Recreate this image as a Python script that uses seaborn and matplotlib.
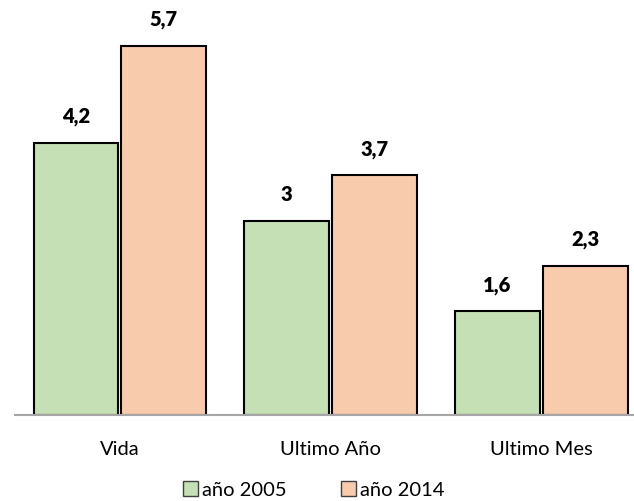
import matplotlib
matplotlib.use("Agg")
import matplotlib.pyplot as plt
import seaborn as sns
import pandas as pd
from matplotlib.patches import Patch

categories = ["Vida", "Ultimo Año", "Ultimo Mes"]
series_names = ["año 2005", "año 2014"]
values_2005 = [4.2, 3.0, 1.6]
values_2014 = [5.7, 3.7, 2.3]
colors = ["#c5e0b4", "#f8cbad"]

df = pd.DataFrame({
    "cat": categories * 2,
    "serie": [series_names[0]] * 3 + [series_names[1]] * 3,
    "val": values_2005 + values_2014,
})

sns.set_theme(style="white")
plt.rcParams["font.family"] = ["Lato", "DejaVu Sans"]
plt.rcParams["text.color"] = "black"
plt.rcParams["xtick.color"] = "black"

fig = plt.figure(figsize=(6.34, 5.01), dpi=100)
ax = fig.add_axes([14.5 / 634, (501 - 415) / 501, 632.5 / 634, 405 / 501])
sns.barplot(data=df, x="cat", y="val", hue="serie", palette=colors,
            width=0.834, gap=0.035, edgecolor="black", linewidth=1.5,
            ax=ax, legend=False, saturation=1)
ax.set_xlim(-0.5, 2.5)
ax.set_ylim(0, 6.25)
ax.set_xlabel("")
ax.set_ylabel("")
ax.set_yticks([])
for s in ["top", "right", "left"]:
    ax.spines[s].set_visible(False)
ax.spines["bottom"].set_color("#a6a6a6")
ax.spines["bottom"].set_linewidth(1.5)
ax.tick_params(axis="x", length=0, labelsize=14.5, pad=19, labelcolor="black")

def fmt(v):
    return ("%g" % v).replace(".", ",")

for cont in ax.containers:
    ax.bar_label(cont, labels=[fmt(b.get_height()) for b in cont],
                 padding=12, fontsize=14.5, fontweight="heavy", color="black")

handles = [Patch(facecolor=c, edgecolor="#404040", linewidth=1) for c in colors]
fig.legend(handles, series_names, loc="center", bbox_to_anchor=(314 / 634, 1 - 490 / 501),
           ncol=2, frameon=False, fontsize=14.5, handlelength=0.75, handleheight=0.75,
           handletextpad=0.2, columnspacing=2.7, borderpad=0)

fig.savefig("out.png", dpi=100)
